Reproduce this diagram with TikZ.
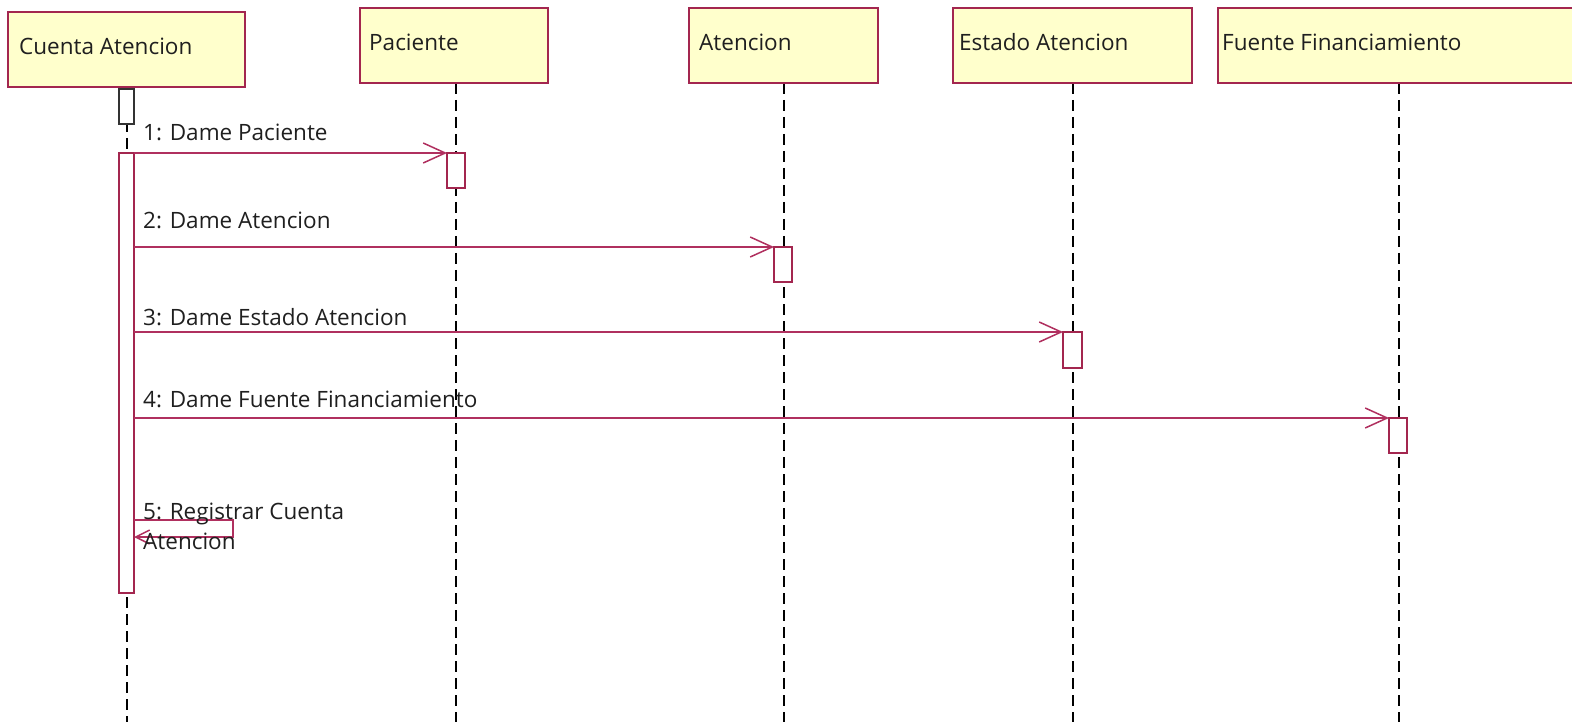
\documentclass[tikz,border=0pt]{standalone}
\usepackage{fontspec}
\setmainfont{Open Sans}
\usetikzlibrary{arrows.meta}
\definecolor{bord}{HTML}{A3264F}
\definecolor{msg}{HTML}{B0305F}
\definecolor{fillY}{HTML}{FFFFCC}
\begin{document}
\begin{tikzpicture}[x=1pt,y=-1pt,
  every node/.style={font=\fontsize{22.5}{27}\selectfont, text=black!88, inner sep=0pt},
  objbox/.style={draw=bord, fill=fillY, line width=2pt},
  life/.style={draw=black, line width=1.5pt, dash pattern=on 11pt off 6pt},
  act/.style={draw=bord, fill=white, line width=1.5pt},
  actk/.style={draw=black!80, fill=white, line width=1.8pt},
  call/.style={draw=msg, line width=1.5pt, -{Straight Barb[length=22pt,width=20pt,line width=1.5pt]}},
  lbl/.style={anchor=base west}]
\useasboundingbox (0,0) rectangle (1572,722);
% lifelines
\coordinate (l1t) at (127,87); \coordinate (l1b) at (127,722);
\coordinate (l2t) at (456,83); \coordinate (l2b) at (456,722);
\coordinate (l3t) at (784,83); \coordinate (l3b) at (784,722);
\coordinate (l4t) at (1073,83); \coordinate (l4b) at (1073,722);
\coordinate (l5t) at (1399,83); \coordinate (l5b) at (1399,722);
\draw[life] (l1t) -- (l1b);
\draw[life] (l2t) -- (l2b);
\draw[life] (l3t) -- (l3b);
\draw[life] (l4t) -- (l4b);
\draw[life] (l5t) -- (l5b);
% object boxes
\draw[objbox] (8,12) rectangle (245,87);
\node[anchor=base west] (o1) at (19,55) {Cuenta Atencion};
\draw[objbox] (360,8) rectangle (548,83);
\node[anchor=base west] (o2) at (369,51) {Paciente};
\draw[objbox] (689,8) rectangle (878,83);
\node[anchor=base west] (o3) at (699,51) {Atencion};
\draw[objbox] (953,8) rectangle (1192,83);
\node[anchor=base west] (o4) at (959,51) {Estado Atencion};
\draw[objbox] (1218,8) rectangle (1580,83);
\node[anchor=base west] (o5) at (1222,51) {Fuente Financiamiento};
% activations
\draw[actk] (119,89) rectangle (134,124);
\draw[act] (119,153) rectangle (134,593);
\draw[act] (447,153) rectangle (465,188);
\draw[act] (774,247) rectangle (792,282);
\draw[act] (1063,332) rectangle (1082,368);
\draw[act] (1389,418) rectangle (1407,453);
% message endpoints
\coordinate (s1) at (134,153); \coordinate (e1) at (447,153);
\coordinate (s2) at (134,247); \coordinate (e2) at (774,247);
\coordinate (s3) at (134,332); \coordinate (e3) at (1063,332);
\coordinate (s4) at (134,418); \coordinate (e4) at (1389,418);
\draw[call] (s1) -- (e1);
\draw[call] (s2) -- (e2);
\draw[call] (s3) -- (e3);
\draw[call] (s4) -- (e4);
\node[lbl] (m1) at (143,141) {1: Dame Paciente};
\node[lbl] (m2) at (143,229) {2: Dame Atencion};
\node[lbl] (m3) at (143,325) {3: Dame Estado Atencion};
\node[lbl] (m4) at (143,407) {4: Dame Fuente Financiamiento};
% self message
\coordinate (s5) at (134,520); \coordinate (c5a) at (233,520);
\coordinate (c5b) at (233,537); \coordinate (e5) at (134,537);
\draw[call, -{Straight Barb[length=14pt,width=14pt,line width=1.5pt]}] (s5) -- (c5a) -- (c5b) -- (e5);
\node[lbl] (m5a) at (143,519) {5: Registrar Cuenta};
\node[lbl] (m5b) at (143,549) {Atencion};
\end{tikzpicture}
\end{document}
